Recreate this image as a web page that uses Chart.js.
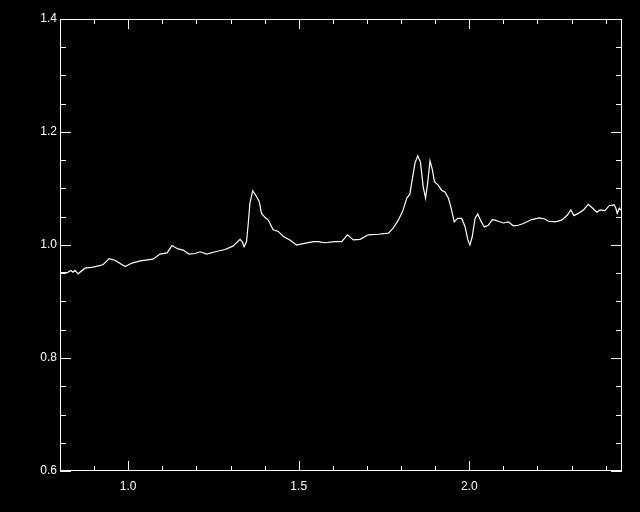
<!DOCTYPE html>
<html>
<head>
<meta charset="utf-8">
<script src="https://cdn.jsdelivr.net/npm/chart.js@4"></script>
<style>
  html, body { margin: 0; padding: 0; background: #000; }
  canvas { display: block; }
</style>
</head>
<body>
<canvas id="spectrum" width="640" height="512"></canvas>
<script>
// Values
const xValues = [0.800, 0.821, 0.832, 0.838, 0.844, 0.853, 0.873, 0.897, 0.926, 0.944,
  0.961, 0.991, 1.011, 1.035, 1.073, 1.093, 1.114, 1.128, 1.146, 1.161,
  1.178, 1.196, 1.211, 1.231, 1.255, 1.284, 1.307, 1.328, 1.335, 1.340,
  1.347, 1.352, 1.357, 1.365, 1.374, 1.384, 1.391, 1.401, 1.411, 1.425,
  1.440, 1.455, 1.474, 1.494, 1.509, 1.543, 1.557, 1.577, 1.606, 1.626,
  1.643, 1.660, 1.680, 1.704, 1.733, 1.763, 1.777, 1.792, 1.805, 1.817,
  1.826, 1.831, 1.841, 1.849, 1.857, 1.865, 1.872, 1.878, 1.885, 1.892,
  1.898, 1.909, 1.919, 1.929, 1.939, 1.947, 1.956, 1.966, 1.978, 1.988,
  1.996, 2.002, 2.009, 2.017, 2.025, 2.033, 2.044, 2.056, 2.068, 2.076,
  2.085, 2.100, 2.115, 2.129, 2.144, 2.159, 2.183, 2.206, 2.222, 2.232,
  2.252, 2.271, 2.288, 2.298, 2.307, 2.320, 2.335, 2.349, 2.362, 2.374,
  2.384, 2.398, 2.411, 2.425, 2.430, 2.434, 2.440, 2.444, 2.448];
const yValues = [0.951, 0.951, 0.955, 0.952, 0.955, 0.949, 0.959, 0.961, 0.965, 0.976,
  0.973, 0.962, 0.968, 0.972, 0.975, 0.984, 0.986, 0.999, 0.993, 0.991,
  0.984, 0.985, 0.988, 0.984, 0.988, 0.992, 0.998, 1.010, 1.005, 0.997,
  1.006, 1.038, 1.074, 1.096, 1.088, 1.077, 1.056, 1.049, 1.044, 1.027,
  1.024, 1.015, 1.009, 1.000, 1.002, 1.006, 1.006, 1.004, 1.006, 1.006,
  1.018, 1.009, 1.010, 1.018, 1.019, 1.021, 1.030, 1.044, 1.060, 1.083,
  1.090, 1.109, 1.145, 1.158, 1.147, 1.103, 1.083, 1.109, 1.149, 1.133,
  1.112, 1.106, 1.097, 1.094, 1.083, 1.065, 1.041, 1.047, 1.047, 1.032,
  1.009, 1.000, 1.015, 1.047, 1.055, 1.044, 1.032, 1.035, 1.045, 1.044,
  1.042, 1.039, 1.041, 1.034, 1.035, 1.038, 1.045, 1.048, 1.046, 1.042,
  1.041, 1.044, 1.053, 1.062, 1.052, 1.056, 1.062, 1.072, 1.065, 1.058,
  1.062, 1.061, 1.070, 1.071, 1.065, 1.056, 1.065, 1.062, 1.062];

const xTickValues = [1.0, 1.5, 2.0];
const xMinorTicks = [0.9, 1.1, 1.2, 1.3, 1.4, 1.6, 1.7, 1.8, 1.9, 2.1, 2.2, 2.3, 2.4];
const yTickValues = [0.6, 0.8, 1.0, 1.2, 1.4];
const yMinorTicks = [0.65, 0.7, 0.75, 0.85, 0.9, 0.95, 1.05, 1.1, 1.15, 1.25, 1.3, 1.35];

const points = xValues.map((x, i) => ({ x: x, y: yValues[i] }));

// Black page, white box with inward ticks on all four sides
const frame = {
  id: 'frame',
  beforeDraw(c) {
    const ctx = c.ctx;
    ctx.save();
    ctx.fillStyle = '#000';
    ctx.fillRect(0, 0, c.width, c.height);
    ctx.restore();
  },
  afterDraw(c) {
    const ctx = c.ctx, a = c.chartArea;
    const xs = c.scales.x, ys = c.scales.y;
    ctx.save();
    ctx.strokeStyle = '#fff';
    ctx.lineWidth = 1;
    ctx.strokeRect(a.left + 0.5, a.top + 0.5, a.right - a.left - 1, a.bottom - a.top - 1);
    ctx.beginPath();
    const xTick = (v, len) => {
      const px = Math.round(xs.getPixelForValue(v)) + 0.5;
      ctx.moveTo(px, a.bottom); ctx.lineTo(px, a.bottom - len);
      ctx.moveTo(px, a.top); ctx.lineTo(px, a.top + len);
    };
    const yTick = (v, len) => {
      const py = Math.round(ys.getPixelForValue(v)) + 0.5;
      ctx.moveTo(a.left, py); ctx.lineTo(a.left + len, py);
      ctx.moveTo(a.right, py); ctx.lineTo(a.right - len, py);
    };
    xTickValues.forEach(v => xTick(v, 10));
    xMinorTicks.forEach(v => xTick(v, 5));
    yTickValues.forEach(v => yTick(v, 11));
    yMinorTicks.forEach(v => yTick(v, 6));
    ctx.stroke();
    ctx.restore();
  }
};

new Chart(document.getElementById('spectrum'), {
  type: 'line',
  data: {
    datasets: [{
      data: points,
      borderColor: '#fff',
      borderWidth: 1.2,
      pointRadius: 0,
      tension: 0,
      fill: false
    }]
  },
  options: {
    responsive: false,
    animation: false,
    devicePixelRatio: 1,
    layout: { padding: { top: 19, right: 18, left: 0, bottom: 0 } },
    plugins: { legend: { display: false }, tooltip: { enabled: false } },
    scales: {
      x: {
        type: 'linear',
        min: 0.8,
        max: 2.448,
        grid: { display: false, drawTicks: false },
        border: { display: false },
        afterBuildTicks: s => { s.ticks = xTickValues.map(v => ({ value: v })); },
        afterFit: s => { s.height = 41; },
        ticks: {
          color: '#fff',
          padding: 8,
          maxRotation: 0,
          font: { family: 'Liberation Sans', size: 12 },
          callback: v => v.toFixed(1)
        }
      },
      y: {
        min: 0.6,
        max: 1.4,
        grid: { display: false, drawTicks: false },
        border: { display: false },
        afterBuildTicks: s => { s.ticks = yTickValues.map(v => ({ value: v })); },
        afterFit: s => { s.width = 60; },
        ticks: {
          color: '#fff',
          padding: 3,
          font: { family: 'Liberation Sans', size: 12 },
          callback: v => v.toFixed(1)
        }
      }
    }
  },
  plugins: [frame]
});
</script>
</body>
</html>
